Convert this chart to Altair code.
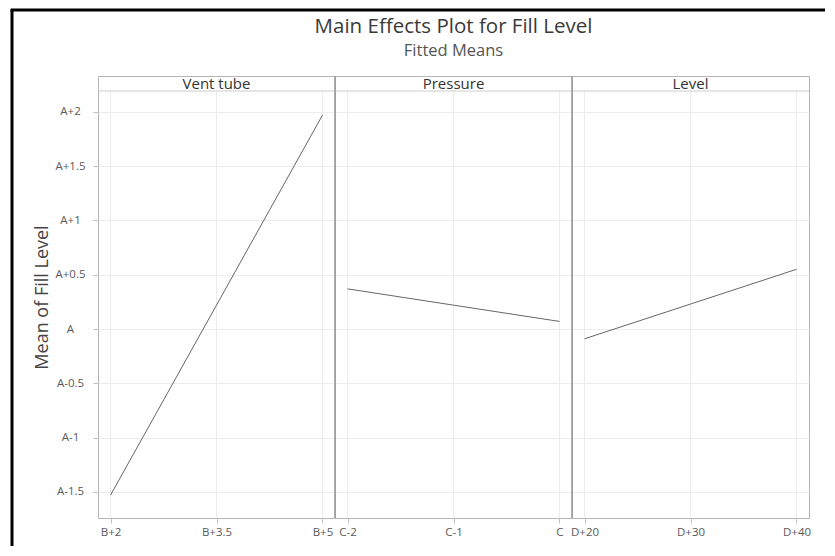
import altair as alt
import pandas as pd

chart_title = "Main Effects Plot for Fill Level"
chart_subtitle = "Fitted Means"
factors = ["Vent tube", "Pressure", "Level"]
vent_levels = ["B+2", "B+3.5", "B+5"]
vent_means = [-1.53, 0.22, 1.97]
pressure_levels = ["C-2", "C-1", "C"]
pressure_means = [0.37, 0.22, 0.07]
level_levels = ["D+20", "D+30", "D+40"]
level_means = [-0.09, 0.23, 0.55]
y_ticks = [-1.5, -1, -0.5, 0, 0.5, 1, 1.5, 2]
y_tick_labels = ["A-1.5", "A-1", "A-0.5", "A", "A+0.5", "A+1", "A+1.5", "A+2"]

PW = 237   # panel width
PH = 442   # panel height (incl. strip)
STRIP = 15
FONT = "Open Sans"

label_expr = " : ".join(
    f"datum.value == {v} ? '{l}'" for v, l in zip(y_ticks, y_tick_labels)
) + " : ''"


def panel(name, levels, means, idx):
    first = idx == 0
    df = pd.DataFrame({"level": levels, "mean": means})
    x = alt.X(
        "level:N",
        sort=levels,
        scale=alt.Scale(type="point", padding=0.118),
        axis=alt.Axis(
            title=None, labelAngle=0, grid=False, domain=False,
            tickColor="#c0c0c0", tickSize=5, labelColor="#5a5a5a",
            labelFontSize=11.5, labelPadding=3, labelFont=FONT,
        ),
    )
    if first:
        yaxis = alt.Axis(
            values=y_ticks, labelExpr=label_expr, tickColor="#c0c0c0",
            tickSize=5, labelColor="#5a5a5a", labelFontSize=11.5, labelFont=FONT,
            labelAlign="center", labelPadding=23, domain=False, grid=True,
            gridColor="#ececec",
            title="Mean of Fill Level", titleFontSize=18, titleColor="#444",
            titleFontWeight="normal", titleFont=FONT, titlePadding=3,
        )
    else:
        yaxis = alt.Axis(
            values=y_ticks, labels=False, ticks=False, domain=False,
            title=None, grid=True, gridColor="#ececec",
        )
    y = alt.Y("mean:Q", scale=alt.Scale(domain=[-1.74, 2.33], nice=False, zero=False), axis=yaxis)

    base = alt.Chart(df)
    grid = base.mark_rule(color="#ececec", strokeWidth=1).encode(
        x=x, y=alt.value(STRIP), y2=alt.value(PH)
    )
    line = base.mark_line(color="#666666", strokeWidth=1).encode(x=x, y=y)
    one = alt.Chart(pd.DataFrame({"t": [name]}))
    strip_rule = one.mark_rule(color="#cccccc", strokeWidth=1).encode(
        x=alt.value(0), x2=alt.value(PW), y=alt.value(STRIP)
    )
    strip_text = one.mark_text(
        font=FONT, fontSize=15, color="#333", baseline="middle", align="center"
    ).encode(text="t:N", x=alt.value(PW / 2), y=alt.value(STRIP / 2 + 0.5))
    layers = [grid, strip_rule, strip_text, line]
    if first:
        left_border = one.mark_rule(color="black", strokeWidth=3).encode(
            x=alt.value(-86), y=alt.value(-66), y2=alt.value(470)
        )
        top_border = one.mark_rule(color="black", strokeWidth=3).encode(
            x=alt.value(-87.5), x2=alt.value(727), y=alt.value(-66)
        )
        layers += [left_border, top_border]
    else:
        divider = one.mark_rule(color="#9a9a9a", strokeWidth=1.6).encode(
            x=alt.value(0), y=alt.value(0), y2=alt.value(PH)
        )
        layers.append(divider)
    if idx == 1:
        t = alt.Chart(pd.DataFrame({"t": [chart_title]})).mark_text(
            font=FONT, fontSize=20.5, color="#3a3a3a", baseline="middle", align="center"
        ).encode(text="t:N", x=alt.value(PW / 2), y=alt.value(-49))
        st = alt.Chart(pd.DataFrame({"t": [chart_subtitle]})).mark_text(
            font=FONT, fontSize=16.5, color="#555", baseline="middle", align="center"
        ).encode(text="t:N", x=alt.value(PW / 2), y=alt.value(-25))
        layers += [t, st]
    return alt.layer(*layers).properties(width=PW, height=PH)


chart = alt.hconcat(
    panel(factors[0], vent_levels, vent_means, 0),
    panel(factors[1], pressure_levels, pressure_means, 1),
    panel(factors[2], level_levels, level_means, 2),
    spacing=0,
    bounds="flush",
).properties(padding=0).configure_view(stroke="#b5b5b5", strokeWidth=1)

chart.save("out.html", embed_options={"renderer": "svg", "actions": False})
